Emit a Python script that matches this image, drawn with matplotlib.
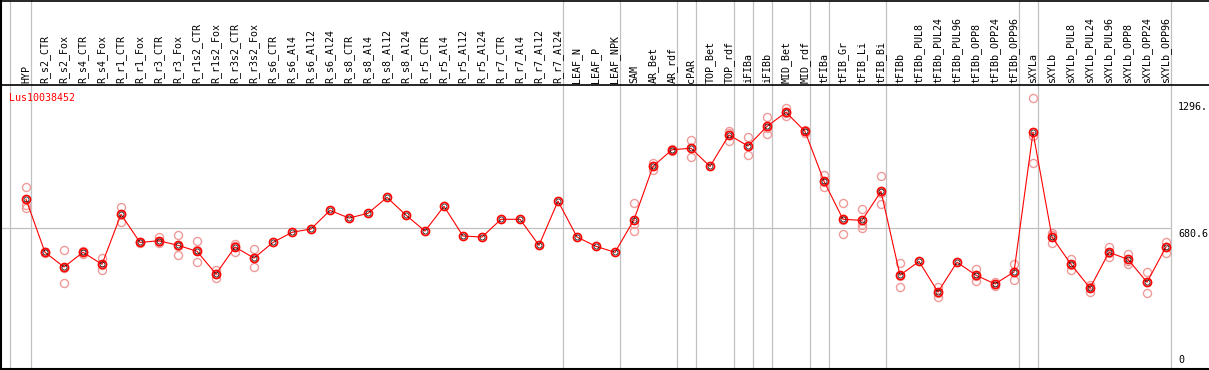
import matplotlib
matplotlib.use("Agg")
import matplotlib.pyplot as plt
from matplotlib.lines import Line2D

gene = "Lus10038452"

categories = [
    "HYP", "R_s2_CTR", "R_s2_Fox", "R_s4_CTR", "R_s4_Fox", "R_r1_CTR", "R_r1_Fox",
    "R_r3_CTR", "R_r3_Fox", "R_r1s2_CTR", "R_r1s2_Fox", "R_r3s2_CTR", "R_r3s2_Fox",
    "R_s6_CTR", "R_s6_Al4", "R_s6_Al12", "R_s6_Al24", "R_s8_CTR", "R_s8_Al4",
    "R_s8_Al12", "R_s8_Al24", "R_r5_CTR", "R_r5_Al4", "R_r5_Al12", "R_r5_Al24",
    "R_r7_CTR", "R_r7_Al4", "R_r7_Al12", "R_r7_Al24", "LEAF_N", "LEAF_P", "LEAF_NPK",
    "SAM", "AR_Bet", "AR_rdf", "cPAR", "TOP_Bet", "TOP_rdf", "iFIBa", "iFIBb",
    "MID_Bet", "MID_rdf", "tFIBa", "tFIB_Gr", "tFIB_Li", "tFIB_Bi", "tFIBb",
    "tFIBb_PUL8", "tFIBb_PUL24", "tFIBb_PUL96", "tFIBb_OPP8", "tFIBb_OPP24",
    "tFIBb_OPP96", "sXYLa", "sXYLb", "sXYLb_PUL8", "sXYLb_PUL24", "sXYLb_PUL96",
    "sXYLb_OPP8", "sXYLb_OPP24", "sXYLb_OPP96",
]

means = [
    822, 565, 494, 565, 507, 749, 613, 621, 599, 570, 460, 591, 537,
    613, 662, 678, 768, 731, 754, 831, 745, 668, 788, 644, 639,
    725, 725, 599, 813, 639, 594, 565,
    723, 981, 1062, 1069, 981, 1133, 1080, 1175,
    1243, 1151, 909, 725, 720, 860, 454,
    521, 373, 517, 454, 412, 470,
    1146, 639, 507, 392, 565, 531, 420, 591,
]

replicates = [
    [880, 794, 781], [568, 565, 560], [575, 491, 416], [572, 565, 558], [539, 503, 479],
    [784, 750, 713], [616, 613, 611], [641, 615, 608], [649, 597, 551], [618, 575, 517],
    [478, 462, 442], [607, 598, 568], [581, 537, 495],
    [], [], [], [], [], [], [], [], [], [], [], [], [], [], [], [], [], [], [],
    [802, 700, 667], [999, 981, 964], [1066, 1062, 1058], [1110, 1069, 1028], [],
    [1151, 1144, 1104], [1123, 1078, 1038], [1220, 1169, 1136],
    [1265, 1239, 1225], [1158, 1151, 1141], [939, 906, 881], [802, 721, 652],
    [775, 697, 684], [933, 851, 797], [513, 452, 396],
    [], [398, 370, 350], [], [483, 451, 428], [420, 413, 402], [508, 471, 430],
    [1311, 1130, 998], [660, 647, 610], [534, 506, 481], [408, 397, 371],
    [592, 562, 541], [558, 525, 510], [470, 422, 368], [616, 593, 563],
]

group_sizes = [1, 28, 3, 3, 1, 2, 1, 1, 2, 1, 3, 7, 1, 7]

y_ticks = [0, 680.6, 1296]
y_tick_labels = ["0", "680.6", "1296."]

W, H = 1209, 370
fig = plt.figure(figsize=(W / 100, H / 100), dpi=100)

# plot area in pixels
px_left, px_right, px_top, px_bottom = 1, 1171, 85, 369
ax = fig.add_axes([px_left / W, (H - px_bottom) / H,
                   (px_right - px_left) / W, (px_bottom - px_top) / H])

x0_px, dx_px = 26, 19
scale = 0.2065  # px per unit
ax.set_xlim((px_left - x0_px) / dx_px, (px_right - x0_px) / dx_px)
ax.set_ylim(0, (px_bottom - px_top) / scale)

for s in ax.spines.values():
    s.set_visible(False)

grey = "#c0c0c0"
# horizontal grid at 680.6
ax.axhline(y_ticks[1], color=grey, lw=0.9, zorder=1)

# group separators (extend through header)
ext = (px_bottom - 0) / (px_bottom - px_top)
b = -1
bounds = [b]
for g in group_sizes:
    b += g
    bounds.append(b)
for bd in bounds:
    xx = bd + 0.24 if bd >= 0 else bd + 0.17
    ax.axvline(xx, ymin=0, ymax=ext, color=grey, lw=0.9, clip_on=False, zorder=1)

xs = list(range(len(categories)))
ms = 5.8
rep_col = "#f09a9a"
for i, reps in enumerate(replicates):
    if reps:
        ax.plot([i] * len(reps), reps, linestyle="none", marker="o", ms=ms,
                mfc="none", mec=rep_col, mew=1.0, zorder=2)

ax.plot(xs, means, color="red", lw=0.8, zorder=3)
ax.plot(xs, means, linestyle="none", marker="o", ms=ms, mfc="none",
        mec="red", mew=1.2, zorder=4)
ax.plot(xs, means, linestyle="none", marker="o", ms=3.6, mfc="none",
        mec="black", mew=0.5, zorder=5)

mono = "DejaVu Sans Mono"
fs = 7.2

ax.xaxis.tick_top()
ax.set_xticks(xs)
ax.set_xticklabels(categories, rotation=90, fontsize=fs, family=mono)
ax.tick_params(axis="x", length=0, pad=1.5)
ax.set_yticks([])

# y labels at right
xlab = (1178 - x0_px) / dx_px
ax.text(xlab, y_ticks[2] - 1 / scale, y_tick_labels[2], fontsize=fs, family=mono,
        va="top", ha="left", clip_on=False)
ax.text(xlab, y_ticks[1] - 1 / scale, y_tick_labels[1], fontsize=fs, family=mono,
        va="top", ha="left", clip_on=False)
ax.text(xlab, 4 / scale, y_tick_labels[0], fontsize=fs, family=mono,
        va="bottom", ha="left", clip_on=False)

# gene name
ax.text((9 - x0_px) / dx_px, (px_bottom - 97.7) / scale, gene, color="red",
        fontsize=fs, family=mono, va="center", ha="left")

# borders
def fline(x1, y1, x2, y2, lw=1.2):
    fig.add_artist(Line2D([x1 / W, x2 / W], [1 - y1 / H, 1 - y2 / H],
                          transform=fig.transFigure, color="black", lw=lw))

fline(0, 0.5, W, 0.5)
fline(1, 0, 1, px_bottom, lw=1.5)
fline(0, px_top, W, px_top)
fline(0, px_bottom, W, px_bottom, lw=1.5)

fig.savefig("out.png", dpi=100, facecolor="white")
